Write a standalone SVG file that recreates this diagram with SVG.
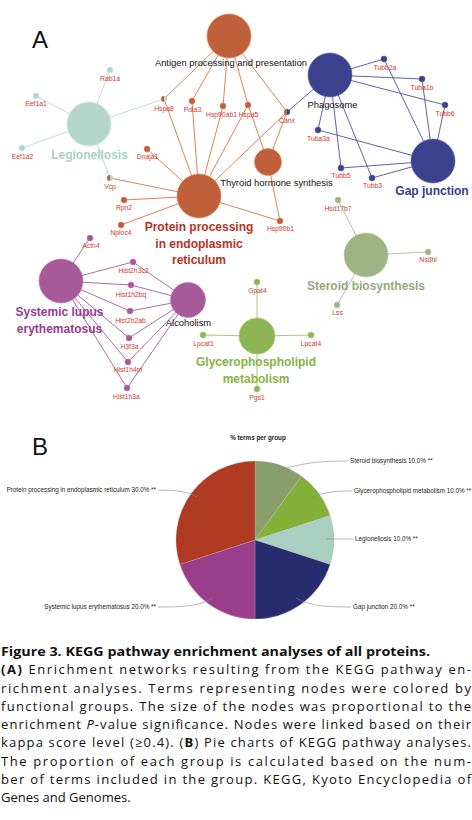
<svg xmlns="http://www.w3.org/2000/svg" width="472" height="820" viewBox="0 0 472 820">
<style>
.gl{font-family:"Liberation Sans",Arial,sans-serif;font-size:6.8px;fill:#d2382e;text-anchor:middle}
.tl{font-family:"Liberation Sans",Arial,sans-serif;font-size:9.4px;fill:#111;text-anchor:middle}
.bl{font-family:"Liberation Sans",Arial,sans-serif;font-weight:bold;font-size:12px;text-anchor:middle}
.pl{font-family:"Liberation Sans",Arial,sans-serif;font-size:6.3px;fill:#222}
.cap{font-family:"Open Sans","DejaVu Sans",sans-serif;font-size:13px;fill:#111}
.big{font-family:"Liberation Sans",Arial,sans-serif;font-size:24px;fill:#111}
.teal{stroke:#b5d9ce}.org{stroke:#d27545}.blu{stroke:#4b51a3}.pur{stroke:#a75a9c}.ste{stroke:#a9bd8f}.gly{stroke:#9ec36a}
#edges line{stroke-width:0.9}
.nO{fill:#c0603a;stroke:#d9845c;stroke-width:0.6}
.nT{fill:#b4d6cb;stroke:#cfe6de;stroke-width:0.6}
.nB{fill:#3c428e;stroke:#5a5fa8;stroke-width:0.6}
.nP{fill:#a65a98;stroke:#c07ab4;stroke-width:0.6}
.nS{fill:#9db485;stroke:#b7c9a3;stroke-width:0.6}
.nG{fill:#8cb654;stroke:#a7ca78;stroke-width:0.6}
.lead{fill:none;stroke:#8a8a8a;stroke-width:0.6}
</style>
<rect width="472" height="820" fill="#fff"/>
<text class="big" x="32" y="47.5">A</text>

<g id="edges">
<g class="teal">
<line x1="89" y1="124" x2="110" y2="70"/><line x1="89" y1="124" x2="36" y2="96"/><line x1="89" y1="124" x2="22" y2="148"/><line x1="89" y1="124" x2="164" y2="99"/><line x1="89" y1="124" x2="110" y2="178"/>
</g>
<g class="org">
<line x1="229" y1="36" x2="164" y2="99"/><line x1="229" y1="36" x2="192" y2="101"/><line x1="229" y1="36" x2="223" y2="106"/><line x1="229" y1="36" x2="248" y2="105"/><line x1="229" y1="36" x2="287" y2="112"/>
<line x1="199" y1="196" x2="164" y2="99"/><line x1="199" y1="196" x2="192" y2="101"/><line x1="199" y1="196" x2="223" y2="106"/><line x1="199" y1="196" x2="248" y2="105"/><line x1="199" y1="196" x2="287" y2="112"/><line x1="199" y1="196" x2="147" y2="149"/><line x1="199" y1="196" x2="110" y2="178"/><line x1="199" y1="196" x2="124" y2="200"/><line x1="199" y1="196" x2="121" y2="225"/><line x1="199" y1="196" x2="280" y2="221"/>
<line x1="268" y1="162" x2="248" y2="105"/><line x1="268" y1="162" x2="287" y2="112"/><line x1="268" y1="162" x2="280" y2="221"/>
</g>
<g class="blu">
<line x1="330" y1="75" x2="287" y2="112"/><line x1="330" y1="75" x2="384" y2="59"/><line x1="330" y1="75" x2="422" y2="79"/><line x1="330" y1="75" x2="445" y2="105"/><line x1="330" y1="75" x2="318" y2="130"/><line x1="330" y1="75" x2="341" y2="168"/><line x1="330" y1="75" x2="372" y2="178"/>
<line x1="433" y1="161" x2="384" y2="59"/><line x1="433" y1="161" x2="422" y2="79"/><line x1="433" y1="161" x2="445" y2="105"/><line x1="433" y1="161" x2="318" y2="130"/><line x1="433" y1="161" x2="341" y2="168"/><line x1="433" y1="161" x2="372" y2="178"/>
</g>
<g class="ste">
<line x1="366" y1="255" x2="338" y2="200"/><line x1="366" y1="255" x2="428" y2="252"/><line x1="366" y1="255" x2="337" y2="305"/>
</g>
<g class="gly">
<line x1="257" y1="336" x2="257" y2="282"/><line x1="257" y1="336" x2="203" y2="335"/><line x1="257" y1="336" x2="311" y2="335"/><line x1="257" y1="336" x2="257" y2="389"/>
</g>
<g class="pur">
<line x1="61" y1="281" x2="90" y2="238"/><line x1="61" y1="281" x2="133" y2="262"/><line x1="61" y1="281" x2="131" y2="285"/><line x1="61" y1="281" x2="130" y2="311"/><line x1="61" y1="281" x2="129" y2="338"/><line x1="61" y1="281" x2="128" y2="362"/><line x1="61" y1="281" x2="127" y2="388"/>
<line x1="188" y1="300" x2="133" y2="262"/><line x1="188" y1="300" x2="131" y2="285"/><line x1="188" y1="300" x2="130" y2="311"/><line x1="188" y1="300" x2="129" y2="338"/><line x1="188" y1="300" x2="128" y2="362"/><line x1="188" y1="300" x2="127" y2="388"/>
</g>
</g>

<!-- term nodes -->
<g id="antigen"><circle class="nO" cx="229" cy="36" r="22"/><text class="tl" x="231" y="65.5">Antigen processing and presentation</text></g>
<g id="legionellosis"><circle class="nT" cx="89" cy="124" r="22"/><text class="bl" x="89.5" y="158.5" fill="#a9d1c5">Legionellosis</text></g>
<g id="phagosome"><circle class="nB" cx="330" cy="75" r="22"/><text class="tl" x="332.5" y="107.5">Phagosome</text></g>
<g id="gapjunction"><circle class="nB" cx="433" cy="161" r="22"/><text class="bl" x="432" y="195" fill="#363e8c">Gap junction</text></g>
<g id="thyroid"><circle class="nO" cx="268" cy="162" r="13.5"/><text class="tl" x="276.5" y="186">Thyroid hormone synthesis</text></g>
<g id="protein"><circle class="nO" cx="199" cy="196" r="22"/><text class="bl" fill="#b83226" x="199" y="231">Protein processing</text><text class="bl" fill="#b83226" x="199" y="247.5">in endoplasmic</text><text class="bl" fill="#b83226" x="199" y="263.5">reticulum</text></g>
<g id="steroid"><circle class="nS" cx="366" cy="255" r="22"/><text class="bl" fill="#93aa7a" x="366" y="289.5" font-size="11.5">Steroid biosynthesis</text></g>
<g id="glycero"><circle class="nG" cx="257" cy="336" r="18"/><text class="bl" fill="#86b345" x="256" y="366">Glycerophospholipid</text><text class="bl" fill="#86b345" x="256" y="382.5">metabolism</text></g>
<g id="lupus"><circle class="nP" cx="61" cy="281" r="22"/><text class="bl" fill="#993b8f" x="59.5" y="316">Systemic lupus</text><text class="bl" fill="#993b8f" x="59.5" y="332.5">erythematosus</text></g>
<g id="alcoholism"><circle class="nP" cx="188" cy="300" r="17.5"/><text class="tl" x="188.5" y="326">Alcoholism</text></g>

<!-- gene nodes -->
<g id="rab1a"><circle class="nT" cx="110" cy="70" r="3"/><text class="gl" x="110" y="81">Rab1a</text></g>
<g id="eef1a1"><circle class="nT" cx="36" cy="96" r="3"/><text class="gl" x="36" y="106">Eef1a1</text></g>
<g id="eef1a2"><circle class="nT" cx="22" cy="148" r="3"/><text class="gl" x="22.5" y="159">Eef1a2</text></g>
<g id="hspa8"><path d="M164,96 A3,3 0 0 0 164,102 Z" fill="#c0603a"/><path d="M164,96 A3,3 0 0 1 164,102 Z" fill="#b4d6cb"/><text class="gl" x="164" y="111">Hspa8</text></g>
<g id="pdia3"><circle class="nO" cx="192" cy="101" r="3"/><text class="gl" x="192.5" y="112">Pdia3</text></g>
<g id="hsp90ab1"><circle class="nO" cx="223" cy="106" r="3"/><text class="gl" x="221.5" y="116.5">Hsp90ab1</text></g>
<g id="hspa5"><circle class="nO" cx="248" cy="105" r="3"/><text class="gl" x="248.5" y="116.5">Hspa5</text></g>
<g id="canx"><path d="M287,109 A3,3 0 0 0 287,115 Z" fill="#c0603a"/><path d="M287,109 A3,3 0 0 1 287,115 Z" fill="#3c428e"/><text class="gl" x="287" y="123">Canx</text></g>
<g id="dnaja1"><circle class="nO" cx="147" cy="149" r="3"/><text class="gl" x="147.5" y="159">Dnaja1</text></g>
<g id="vcp"><path d="M110,175 A3,3 0 0 0 110,181 Z" fill="#c0603a"/><path d="M110,175 A3,3 0 0 1 110,181 Z" fill="#b4d6cb"/><text class="gl" x="110" y="188.5">Vcp</text></g>
<g id="rpn2"><circle class="nO" cx="124" cy="200" r="3"/><text class="gl" x="124" y="210">Rpn2</text></g>
<g id="nploc4"><circle class="nO" cx="121" cy="225" r="3"/><text class="gl" x="121" y="235">Nploc4</text></g>
<g id="hsp90b1"><circle class="nO" cx="280" cy="221" r="3"/><text class="gl" x="280.5" y="231">Hsp90b1</text></g>
<g id="tubb2a"><circle class="nB" cx="384" cy="59" r="3"/><text class="gl" x="385" y="70">Tubb2a</text></g>
<g id="tuba1b"><circle class="nB" cx="422" cy="79" r="3"/><text class="gl" x="422" y="89.5">Tuba1b</text></g>
<g id="tubb6"><circle class="nB" cx="445" cy="105" r="3"/><text class="gl" x="445" y="116">Tubb6</text></g>
<g id="tuba3a"><circle class="nB" cx="318" cy="130" r="3"/><text class="gl" x="318.5" y="140.5">Tuba3a</text></g>
<g id="tubb5"><circle class="nB" cx="341" cy="168" r="3"/><text class="gl" x="341" y="177.5">Tubb5</text></g>
<g id="tubb3"><circle class="nB" cx="372" cy="178" r="3"/><text class="gl" x="372.5" y="187.5">Tubb3</text></g>
<g id="hsd17b7"><circle class="nS" cx="338" cy="200" r="3"/><text class="gl" x="338" y="211">Hsd17b7</text></g>
<g id="nsdhl"><circle class="nS" cx="428" cy="252" r="3"/><text class="gl" x="428" y="262">Nsdhl</text></g>
<g id="lss"><circle class="nS" cx="337" cy="305" r="3"/><text class="gl" x="337.5" y="315">Lss</text></g>
<g id="gpat4"><circle class="nG" cx="257" cy="282" r="3"/><text class="gl" x="257.5" y="293">Gpat4</text></g>
<g id="lpcat1"><circle class="nG" cx="203" cy="335" r="3"/><text class="gl" x="203.5" y="346">Lpcat1</text></g>
<g id="lpcat4"><circle class="nG" cx="311" cy="335" r="3"/><text class="gl" x="311" y="346">Lpcat4</text></g>
<g id="pgs1"><circle class="nG" cx="257" cy="389" r="3"/><text class="gl" x="257" y="400">Pgs1</text></g>
<g id="actn4"><circle class="nP" cx="90" cy="238" r="3"/><text class="gl" x="91" y="248">Actn4</text></g>
<g id="hist2h3c2"><circle class="nP" cx="133" cy="262" r="3"/><text class="gl" x="133.5" y="273">Hist2h3c2</text></g>
<g id="hist1h2bq"><circle class="nP" cx="131" cy="285" r="3"/><text class="gl" x="131" y="296.5">Hist1h2bq</text></g>
<g id="hist2h2ab"><circle class="nP" cx="130" cy="311" r="3"/><text class="gl" x="130.5" y="322.5">Hist2h2ab</text></g>
<g id="h3f3a"><circle class="nP" cx="129" cy="338" r="3"/><text class="gl" x="129.5" y="349">H3f3a</text></g>
<g id="hist1h4m"><circle class="nP" cx="128" cy="362" r="3"/><text class="gl" x="128" y="372">Hist1h4m</text></g>
<g id="hist1h3a"><circle class="nP" cx="127" cy="388" r="3"/><text class="gl" x="126.5" y="399">Hist1h3a</text></g>

<!-- B: pie chart -->
<text class="big" x="32" y="455" font-size="23">B</text>
<text x="258" y="439.5" font-family="Liberation Sans, Arial, sans-serif" font-size="6.3" font-weight="bold" fill="#222" text-anchor="middle">% terms per group</text>
<g id="pie" stroke="#bbb" stroke-width="0.3">
<path d="M255,540 L255,461 A79,79 0 0 1 301.44,476.09 Z" fill="#8a9e6b"/>
<path d="M255,540 L301.44,476.09 A79,79 0 0 1 330.13,515.59 Z" fill="#84b03a"/>
<path d="M255,540 L330.13,515.59 A79,79 0 0 1 330.13,564.41 Z" fill="#a8cfc0"/>
<path d="M255,540 L330.13,564.41 A79,79 0 0 1 255,619 Z" fill="#262c6e"/>
<path d="M255,540 L255,619 A79,79 0 0 1 179.87,564.41 Z" fill="#9a3e8b"/>
<path d="M255,540 L179.87,564.41 A79,79 0 0 1 255,461 Z" fill="#b03a22"/>
</g>
<g id="pie-leaders">
<path class="lead" d="M276,472 C298,463 320,461 348,461"/>
<path class="lead" d="M312,497 C325,492 336,491 352,491"/>
<path class="lead" d="M326,539 L353,539"/>
<path class="lead" d="M296,598 C310,606 326,607 351,607"/>
<path class="lead" d="M213,598 C200,606 184,607 158,607"/>
<path class="lead" d="M158,490 C176,490 190,492 197,497"/>
</g>
<g id="pie-labels">
<text class="pl" x="350" y="463">Steroid biosynthesis 10.0% **</text>
<text class="pl" x="354" y="493">Glycerophospholipid metabolism 10.0% **</text>
<text class="pl" x="355" y="541">Legionellosis 10.0% **</text>
<text class="pl" x="353" y="609">Gap junction 20.0% **</text>
<text class="pl" x="156" y="609" text-anchor="end">Systemic lupus erythematosus 20.0% **</text>
<text class="pl" x="156" y="492" text-anchor="end">Protein processing in endoplasmic reticulum 30.0% **</text>
</g>

<!-- caption -->
<g id="caption">
<text class="cap" x="1" y="656" font-weight="bold" textLength="429" lengthAdjust="spacingAndGlyphs">Figure 3. KEGG pathway enrichment analyses of all proteins.</text>
<text class="cap" x="1" y="674.25" textLength="470" lengthAdjust="spacing"><tspan font-weight="bold">(A)</tspan> Enrichment networks resulting from the KEGG pathway en-</text>
<text class="cap" x="1" y="692.5" textLength="470" lengthAdjust="spacing">richment analyses. Terms representing nodes were colored by</text>
<text class="cap" x="1" y="710.75" textLength="470" lengthAdjust="spacing">functional groups. The size of the nodes was proportional to the</text>
<text class="cap" x="1" y="729" textLength="470" lengthAdjust="spacing">enrichment <tspan font-style="italic">P</tspan>-value significance. Nodes were linked based on their</text>
<text class="cap" x="1" y="747.25" textLength="470" lengthAdjust="spacing">kappa score level (≥0.4). (<tspan font-weight="bold">B</tspan>) Pie charts of KEGG pathway analyses.</text>
<text class="cap" x="1" y="765.5" textLength="470" lengthAdjust="spacing">The proportion of each group is calculated based on the num-</text>
<text class="cap" x="1" y="783.75" textLength="470" lengthAdjust="spacing">ber of terms included in the group. KEGG, Kyoto Encyclopedia of</text>
<text class="cap" x="1" y="802">Genes and Genomes.</text>
</g>
</svg>
